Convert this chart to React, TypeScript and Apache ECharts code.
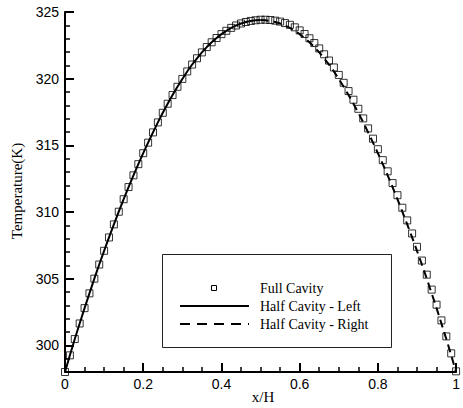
import React, { useEffect, useRef } from "react";
import * as echarts from "echarts";

const xHalfLeft = [0, 0.0125, 0.025, 0.0375, 0.05, 0.0625, 0.075, 0.0875, 0.1, 0.1125, 0.125, 0.1375, 0.15, 0.1625, 0.175, 0.1875, 0.2, 0.2125, 0.225, 0.2375, 0.25, 0.2625, 0.275, 0.2875, 0.3, 0.3125, 0.325, 0.3375, 0.35, 0.3625, 0.375, 0.3875, 0.4, 0.4125, 0.425, 0.4375, 0.45, 0.4625, 0.475, 0.4875, 0.5];
const xHalfRight = [0.5, 0.5125, 0.525, 0.5375, 0.55, 0.5625, 0.575, 0.5875, 0.6, 0.6125, 0.625, 0.6375, 0.65, 0.6625, 0.675, 0.6875, 0.7, 0.7125, 0.725, 0.7375, 0.75, 0.7625, 0.775, 0.7875, 0.8, 0.8125, 0.825, 0.8375, 0.85, 0.8625, 0.875, 0.8875, 0.9, 0.9125, 0.925, 0.9375, 0.95, 0.9625, 0.975, 0.9875, 1];

const tHalfLeft = [298.0, 299.25, 300.47, 301.64, 302.79, 303.9, 305.0, 306.06, 307.09, 308.09, 309.07, 310.02, 310.96, 311.87, 312.75, 313.59, 314.41, 315.2, 315.97, 316.72, 317.44, 318.12, 318.77, 319.39, 319.98, 320.54, 321.06, 321.53, 321.97, 322.37, 322.73, 323.05, 323.34, 323.59, 323.81, 323.99, 324.14, 324.25, 324.33, 324.38, 324.4];
const tHalfRight = [324.4, 324.38, 324.33, 324.25, 324.14, 323.99, 323.81, 323.59, 323.34, 323.05, 322.73, 322.37, 321.97, 321.53, 321.06, 320.54, 319.98, 319.39, 318.77, 318.12, 317.44, 316.72, 315.97, 315.2, 314.41, 313.59, 312.75, 311.87, 310.96, 310.02, 309.07, 308.09, 307.09, 306.06, 305.0, 303.9, 302.79, 301.64, 300.47, 299.25, 298.0];
const tFullLeft = [298.0, 299.25, 300.47, 301.64, 302.79, 303.9, 305.0, 306.06, 307.09, 308.09, 309.07, 310.02, 310.96, 311.87, 312.75, 313.59, 314.41, 315.2, 315.97, 316.72, 317.44, 318.12, 318.77, 319.39, 319.98, 320.54, 321.06, 321.53, 321.97, 322.37, 322.73, 323.05, 323.34, 323.59, 323.81, 323.99, 324.14, 324.25, 324.33, 324.38];
const tFullRight = [324.42, 324.42, 324.4, 324.35, 324.28, 324.17, 324.04, 323.85, 323.62, 323.35, 323.03, 322.67, 322.27, 321.83, 321.36, 320.84, 320.28, 319.69, 319.07, 318.42, 317.74, 317.02, 316.27, 315.5, 314.71, 313.89, 313.05, 312.17, 311.26, 310.32, 309.37, 308.39, 307.39, 306.36, 305.3, 304.18, 303.05, 301.87, 300.67, 299.4, 298.05];

const yMajorTicks = [300, 305, 310, 315, 320, 325];
const legendNames = ["Full Cavity", "Half Cavity - Left", "Half Cavity - Right"];

const SANS = "Liberation Sans, Arial, sans-serif";
const SERIF = "Liberation Serif, Times New Roman, serif";

export default function App() {
  const ref = useRef<HTMLDivElement>(null);
  useEffect(() => {
    if (!ref.current) return;
    const chart = echarts.init(ref.current, undefined, { renderer: "svg" });
    const xFull = [...xHalfLeft.slice(0, 40), ...xHalfRight];
    const tFull = [...tFullLeft, ...tFullRight];
    const fullData = xFull.map((x, i) => [x, tFull[i]]);
    const leftData = xHalfLeft.map((x, i) => [x, tHalfLeft[i]]);
    const rightData = xHalfRight.map((x, i) => [x, tHalfRight[i]]);

    const legX = 162, legY = 254;
    chart.setOption({
      animation: false,
      backgroundColor: "#fff",
      grid: { left: 65, right: 3, top: 12, bottom: 36, containLabel: false },
      xAxis: {
        type: "value",
        min: 0,
        max: 1,
        interval: 0.2,
        axisLine: { show: true, lineStyle: { color: "#000", width: 2 } },
        axisTick: { show: true, inside: true, length: 9, lineStyle: { color: "#000", width: 2 } },
        minorTick: { show: true, splitNumber: 4, length: 5, lineStyle: { color: "#000", width: 1.5 } },
        axisLabel: { color: "#000", fontFamily: SANS, fontSize: 14, margin: 5 },
        splitLine: { show: false },
        minorSplitLine: { show: false },
      },
      yAxis: [
        {
          type: "value",
          min: 298,
          max: 325,
          interval: 1,
          axisLine: { show: true, lineStyle: { color: "#000", width: 2 } },
          axisTick: { show: true, inside: true, length: 5, lineStyle: { color: "#000", width: 1.5 } },
          axisLabel: {
            color: "#000",
            fontFamily: SANS,
            fontSize: 14,
            margin: 6,
            formatter: (v: number) => (v % 5 === 0 ? String(v) : ""),
          },
          splitLine: { show: false },
        },
        {
          type: "value",
          min: 298,
          max: 325,
          interval: 1,
          position: "left",
          axisLine: { show: false },
          axisTick: {
            show: true,
            inside: true,
            length: 9,
            customValues: yMajorTicks,
            lineStyle: { color: "#000", width: 2 },
          },
          axisLabel: { show: false },
          splitLine: { show: false },
        },
      ],
      series: [
        {
          name: legendNames[0],
          type: "scatter",
          data: fullData,
          symbol: "rect",
          symbolSize: 7,
          clip: false,
          itemStyle: { color: "rgba(255,255,255,0)", borderColor: "#000", borderWidth: 1 },
          z: 2,
        },
        {
          name: legendNames[1],
          type: "line",
          data: leftData,
          showSymbol: false,
          lineStyle: { color: "#000", width: 2 },
          z: 3,
        },
        {
          name: legendNames[2],
          type: "line",
          data: rightData,
          showSymbol: false,
          lineStyle: { color: "#000", width: 2, type: [8, 5] },
          z: 3,
        },
      ],
      graphic: [
        {
          type: "text",
          x: 17,
          y: 191,
          rotation: Math.PI / 2,
          style: { text: "Temperature(K)", font: `15px ${SERIF}`, fill: "#000", align: "center", verticalAlign: "middle" },
        },
        {
          type: "text",
          x: 263,
          y: 397,
          style: { text: "x/H", font: `15px ${SERIF}`, fill: "#000", align: "center", verticalAlign: "middle" },
        },
        {
          type: "rect",
          shape: { x: legX + 0.5, y: legY + 0.5, width: 229, height: 93 },
          style: { fill: "#fff", stroke: "#222", lineWidth: 1 },
          z: 10,
        },
        {
          type: "rect",
          shape: { x: 211.5, y: 285.5, width: 5, height: 5 },
          style: { fill: "rgba(255,255,255,0)", stroke: "#000", lineWidth: 1 },
          z: 11,
        },
        {
          type: "line",
          shape: { x1: 180, y1: 306, x2: 249, y2: 306 },
          style: { stroke: "#000", lineWidth: 2 },
          z: 11,
        },
        {
          type: "line",
          shape: { x1: 180, y1: 324, x2: 249, y2: 324 },
          style: { stroke: "#000", lineWidth: 2, lineDash: [10, 7] },
          z: 11,
        },
        ...legendNames.map((n, i) => ({
          type: "text",
          x: 260,
          y: 288 + i * 18,
          z: 11,
          style: { text: n, font: `14px ${SERIF}`, fill: "#000", align: "left", verticalAlign: "middle" },
        })),
      ],
    });
    return () => chart.dispose();
  }, []);
  return <div ref={ref} style={{ position: "fixed", left: 0, top: 0, width: 463, height: 408 }} />;
}
